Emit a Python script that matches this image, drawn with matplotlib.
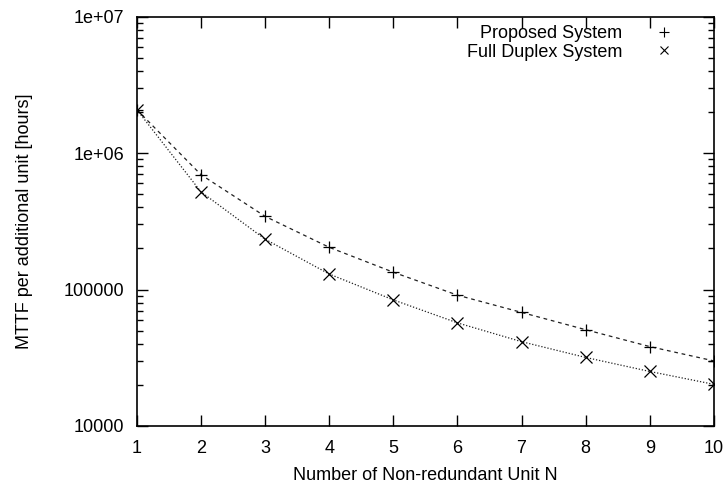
import numpy as np
import matplotlib
matplotlib.use("Agg")
import matplotlib.pyplot as plt
from matplotlib.lines import Line2D
from matplotlib.ticker import FixedLocator, LogLocator, NullFormatter

# data
n_units = [1, 2, 3, 4, 5, 6, 7, 8, 9, 10]
proposed = [2.08e6, 6.95e5, 3.44e5, 2.04e5, 1.34e5, 9.1e4, 6.8e4, 5.08e4, 3.82e4, 3.0e4]
full_duplex = [2.08e6, 5.2e5, 2.34e5, 1.30e5, 8.4e4, 5.7e4, 4.15e4, 3.18e4, 2.51e4, 2.02e4]
x_ticks = [1, 2, 3, 4, 5, 6, 7, 8, 9, 10]
y_ticks = [1e4, 1e5, 1e6, 1e7]
y_tick_labels = ["10000", "100000", "1e+06", "1e+07"]

plt.rcParams['font.family'] = ['Liberation Sans', 'DejaVu Sans']
plt.rcParams['font.size'] = 13

fig = plt.figure(figsize=(7.28, 4.91), dpi=100)
ax = fig.add_axes([0.188, 0.1324, 0.7926, 0.8336])

ax.plot(n_units, proposed, color='#202020', lw=0.9, ls=(0, (3, 3)))
ax.plot(n_units, full_duplex, color='#202020', lw=0.9, ls=(0, (1, 1.5)))
ax.plot(n_units, proposed, ls='none', marker='+', ms=9, mew=0.9, color='black')
ax.plot(n_units, full_duplex, ls='none', marker='x', ms=8, mew=0.9, color='black')

ax.set_yscale('log')
ax.set_xlim(1, 10)
ax.set_ylim(1e4, 1e7)
ax.xaxis.set_major_locator(FixedLocator(x_ticks))
ax.yaxis.set_major_locator(FixedLocator(y_ticks))
ax.set_yticklabels(y_tick_labels)
ax.yaxis.set_minor_locator(LogLocator(base=10, subs=np.arange(2, 10)))
ax.yaxis.set_minor_formatter(NullFormatter())

ax.tick_params(which='both', direction='in', top=True, right=True, width=1)
ax.tick_params(which='major', length=8)
ax.tick_params(which='minor', length=4)
ax.tick_params(axis='x', pad=10)
ax.tick_params(axis='y', pad=9)
for s in ax.spines.values():
    s.set_linewidth(1.2)

ax.set_xlabel("Number of Non-redundant Unit N", labelpad=7)
ax.set_ylabel("MTTF per additional unit [hours]", labelpad=22)

handles = [Line2D([], [], ls='none', marker='+', ms=7, mew=0.8, color='black'),
           Line2D([], [], ls='none', marker='x', ms=6, mew=0.8, color='black')]
ax.legend(handles, ["Proposed System", "Full Duplex System"], loc='upper right',
          bbox_to_anchor=(0.957, 0.997), borderaxespad=0,
          markerfirst=False, frameon=False, handlelength=2.0, handletextpad=1.3,
          labelspacing=0.08)

fig.savefig("out.png", dpi=100)
